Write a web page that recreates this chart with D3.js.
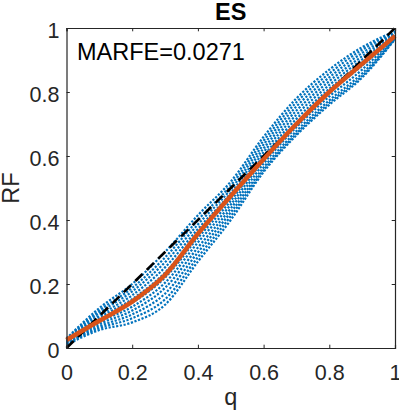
<!DOCTYPE html>
<html lang="en">
<head>
	<meta charset="UTF-8">
	<title>ES</title>
	<script src="https://d3js.org/d3.v7.min.js" charset="utf-8"></script>
	<style>
		body { margin: 0; background: #fff; }
		text { font-family: "Liberation Sans", Arial, Helvetica, sans-serif; }
	</style>
</head>
<body>
	<svg></svg>
	<script>
		// knots on the q axis and the curves
		const qKnots = [0, 0.1, 0.2, 0.3, 0.4, 0.5, 0.6, 0.7, 0.8, 0.9, 1]
		const runs = [
			[0.030, 0.125, 0.200, 0.300, 0.415, 0.520, 0.660, 0.780, 0.870, 0.940, 0.990],
			[0.028, 0.117, 0.188, 0.283, 0.400, 0.508, 0.648, 0.768, 0.858, 0.932, 0.986],
			[0.027, 0.110, 0.177, 0.268, 0.386, 0.496, 0.636, 0.755, 0.846, 0.922, 0.983],
			[0.025, 0.102, 0.165, 0.252, 0.372, 0.484, 0.624, 0.742, 0.834, 0.912, 0.980],
			[0.024, 0.095, 0.153, 0.236, 0.358, 0.472, 0.612, 0.729, 0.822, 0.902, 0.978],
			[0.022, 0.088, 0.141, 0.220, 0.344, 0.460, 0.600, 0.716, 0.810, 0.892, 0.976],
			[0.020, 0.081, 0.129, 0.204, 0.330, 0.448, 0.588, 0.703, 0.798, 0.882, 0.974],
			[0.018, 0.075, 0.117, 0.188, 0.314, 0.436, 0.576, 0.690, 0.786, 0.870, 0.971],
			[0.015, 0.068, 0.105, 0.170, 0.299, 0.424, 0.564, 0.678, 0.774, 0.858, 0.968],
			[0.013, 0.062, 0.093, 0.152, 0.284, 0.412, 0.556, 0.670, 0.766, 0.850, 0.966],
			[0.010, 0.056, 0.080, 0.135, 0.270, 0.400, 0.550, 0.665, 0.760, 0.845, 0.965]
		]
		const meanRF = [0.025, 0.085, 0.145, 0.228, 0.357, 0.475, 0.590, 0.700, 0.800, 0.888, 0.975]
		const diagQ = [0, 1]
		const xTicks = [0, 0.2, 0.4, 0.6, 0.8, 1]
		const yTicks = [0, 0.2, 0.4, 0.6, 0.8, 1]
		const titleText = 'ES'
		const noteText = 'MARFE=0.0271'

		const W = 399, H = 416
		const m = { left: 66.5, right: 4, top: 28, bottom: 68 }

		const svg = d3.select('svg')
			.attr('width', W)
			.attr('height', H)

		const x = d3.scaleLinear().domain([0, 1]).range([m.left, W - m.right])
		const y = d3.scaleLinear().domain([0, 1]).range([H - m.bottom, m.top])

		const line = d3.line()
			.x(d => x(d[0]))
			.y(d => y(d[1]))
			.curve(d3.curveMonotoneX)

		const plot = svg.append('g')

		// blue dotted runs
		plot.selectAll('path.run')
			.data(runs)
			.join('path')
			.attr('class', 'run')
			.attr('d', r => line(qKnots.map((q, i) => [q, r[i]])))
			.attr('fill', 'none')
			.attr('stroke', '#0072BD')
			.attr('stroke-width', 2.2)
			.attr('stroke-dasharray', '2.2,1.6')

		// dashed diagonal
		plot.append('path')
			.attr('d', line(diagQ.map(q => [q, q])))
			.attr('fill', 'none')
			.attr('stroke', '#000')
			.attr('stroke-width', 2.6)
			.attr('stroke-dasharray', '10,6')

		// mean
		plot.append('path')
			.attr('d', line(qKnots.map((q, i) => [q, meanRF[i]])))
			.attr('fill', 'none')
			.attr('stroke', '#D95319')
			.attr('stroke-width', 4.5)

		// axes box
		const axisColor = '#262626'
		const gx = svg.append('g')
			.attr('transform', `translate(0,${y(0)})`)
			.call(d3.axisBottom(x).tickValues(xTicks).tickSize(-3.3).tickPadding(17).tickFormat(d3.format('')))
		const gxTop = svg.append('g')
			.attr('transform', `translate(0,${y(1)})`)
			.call(d3.axisTop(x).tickValues(xTicks).tickSize(-3.3).tickFormat(''))
		const gy = svg.append('g')
			.attr('transform', `translate(${x(0)},0)`)
			.call(d3.axisLeft(y).tickValues(yTicks).tickSize(-3.3).tickPadding(7).tickFormat(d3.format('')))
		const gyRight = svg.append('g')
			.attr('transform', `translate(${x(1)},0)`)
			.call(d3.axisRight(y).tickValues(yTicks).tickSize(-3.3).tickFormat(''))

		for (const g of [gx, gxTop, gy, gyRight]) {
			g.select('.domain').attr('stroke', axisColor).attr('stroke-width', 1.2)
			g.selectAll('.tick line').attr('stroke', axisColor).attr('stroke-width', 1)
			g.selectAll('.tick text')
				.attr('fill', axisColor)
				.style('font-size', '21.5px')
				.style('font-family', '"Liberation Sans", Arial, sans-serif')
		}
		gy.selectAll('.tick text').attr('dy', '0.45em')
		gx.selectAll('.tick text').attr('dy', '0.71em')

		// labels
		svg.append('text')
			.attr('x', (x(0) + x(1)) / 2)
			.attr('y', 19.5)
			.attr('text-anchor', 'middle')
			.style('font-size', '23.5px')
			.style('font-weight', 'bold')
			.text(titleText)

		svg.append('text')
			.attr('x', 77)
			.attr('y', 60)
			.style('font-size', '23.5px')
			.attr('fill', '#000')
			.text(noteText)

		svg.append('text')
			.attr('x', (x(0) + x(1)) / 2)
			.attr('y', 405)
			.attr('text-anchor', 'middle')
			.attr('fill', axisColor)
			.style('font-size', '23.5px')
			.text('q')

		svg.append('text')
			.attr('transform', `translate(18.5,${(y(0) + y(1)) / 2}) rotate(-90)`)
			.attr('text-anchor', 'middle')
			.attr('fill', axisColor)
			.style('font-size', '23.5px')
			.text('RF')
	</script>
</body>
</html>
